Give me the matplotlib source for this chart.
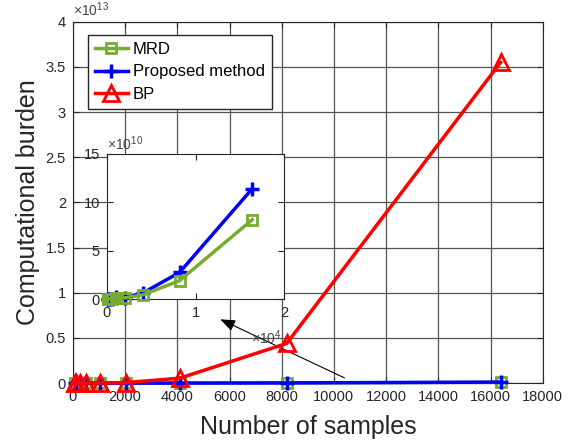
import matplotlib
matplotlib.use('Agg')
import matplotlib.pyplot as plt

plt.rcParams['font.family'] = ['Liberation Sans', 'DejaVu Sans']
plt.rcParams['mathtext.fontset'] = 'custom'
plt.rcParams['mathtext.rm'] = 'Liberation Sans'

samples = [64, 128, 256, 512, 1024, 2048, 4096, 8192, 16384]
bp = [2.1e6, 1.7e7, 1.35e8, 1.1e9, 8.7e9, 6.9e10, 5.5e11, 4.4e12, 3.55e13]
mrd = [1.0e7, 3.0e7, 1.0e8, 4.0e8, 1.5e9, 1.2e9, 4.5e9, 1.9e10, 8.2e10]
proposed = [1.0e7, 3.0e7, 1.2e8, 5.0e8, 2.0e9, 1.5e9, 6.5e9, 2.75e10, 1.14e11]

green = '#77AC30'
txt = '#262626'

fig = plt.figure(figsize=(5.83, 4.45), dpi=100)
ax = fig.add_axes([0.125, 0.139, 0.806, 0.812])

ax.plot(samples, mrd, color=green, lw=2.5, marker='s', ms=7, mfc='none', mew=2,
        label='MRD', clip_on=False, zorder=3)
ax.plot(samples, proposed, color='blue', lw=2.5, marker='+', ms=10, mew=2.5,
        label='Proposed method', clip_on=False, zorder=4)
ax.plot(samples, bp, color='red', lw=2.5, marker='^', ms=11, mfc='none', mew=2,
        label='BP', clip_on=False, zorder=5)

ax.set_xlim(0, 18000)
ax.set_ylim(0, 4e13)
ax.set_xticks(range(0, 18001, 2000))
yt = [i * 0.5e13 for i in range(9)]
ax.set_yticks(yt)
ax.set_yticklabels(['%g' % (v / 1e13) for v in yt])
ax.text(0, 1.008, r'$\times10^{13}$', transform=ax.transAxes, fontsize=10,
        color='#444444', ha='left', va='bottom')
ax.grid(True, color='#555555', lw=0.9)
ax.tick_params(direction='in', top=True, right=True, labelsize=10.5,
               colors=txt, length=4, pad=5)
for s in ax.spines.values():
    s.set_color('#262626')
ax.set_xlabel('Number of samples', fontsize=18, color=txt, labelpad=8)
ax.set_ylabel('Computational burden', fontsize=18, color=txt, labelpad=4)

leg = ax.legend(loc='upper left', bbox_to_anchor=(0.032, 0.963), fontsize=12,
                fancybox=False, framealpha=1, edgecolor='#262626',
                handlelength=2.0, borderpad=0.4, labelspacing=0.45,
                handletextpad=0.3, borderaxespad=0)
leg.get_frame().set_linewidth(1)

ax.annotate('', xy=(5550, 0.72e13), xytext=(10500, 0.045e13),
            arrowprops=dict(arrowstyle='-|>,head_length=0.9,head_width=0.35',
                            color='black', lw=0.8))

ins = fig.add_axes([0.1835, 0.328, 0.304, 0.326])
ins.plot(samples, mrd, color=green, lw=2.5, marker='s', ms=7, mfc='none', mew=2,
         clip_on=False, zorder=3)
ins.plot(samples, proposed, color='blue', lw=2.5, marker='+', ms=10, mew=2.5,
         clip_on=False, zorder=2)
ins.set_xlim(0, 20000)
ins.set_ylim(0, 15e10)
ins.set_xticks([0, 10000, 20000])
ins.set_xticklabels(['0', '1', '2'])
ins.set_yticks([0, 5e10, 10e10, 15e10])
ins.set_yticklabels(['0', '5', '10', '15'])
ins.tick_params(direction='in', top=True, right=True, labelsize=10.5,
                colors=txt, length=4, pad=5)
for s in ins.spines.values():
    s.set_color('#262626')
ins.text(0.0, 1.01, r'$\times10^{10}$', transform=ins.transAxes, fontsize=10,
         color='#444444', ha='left', va='bottom')
ins.text(0.81, -0.33, r'$\times10^{4}$', transform=ins.transAxes, fontsize=10,
         color='#444444', ha='left', va='bottom')

fig.savefig('out.png', dpi=100)
